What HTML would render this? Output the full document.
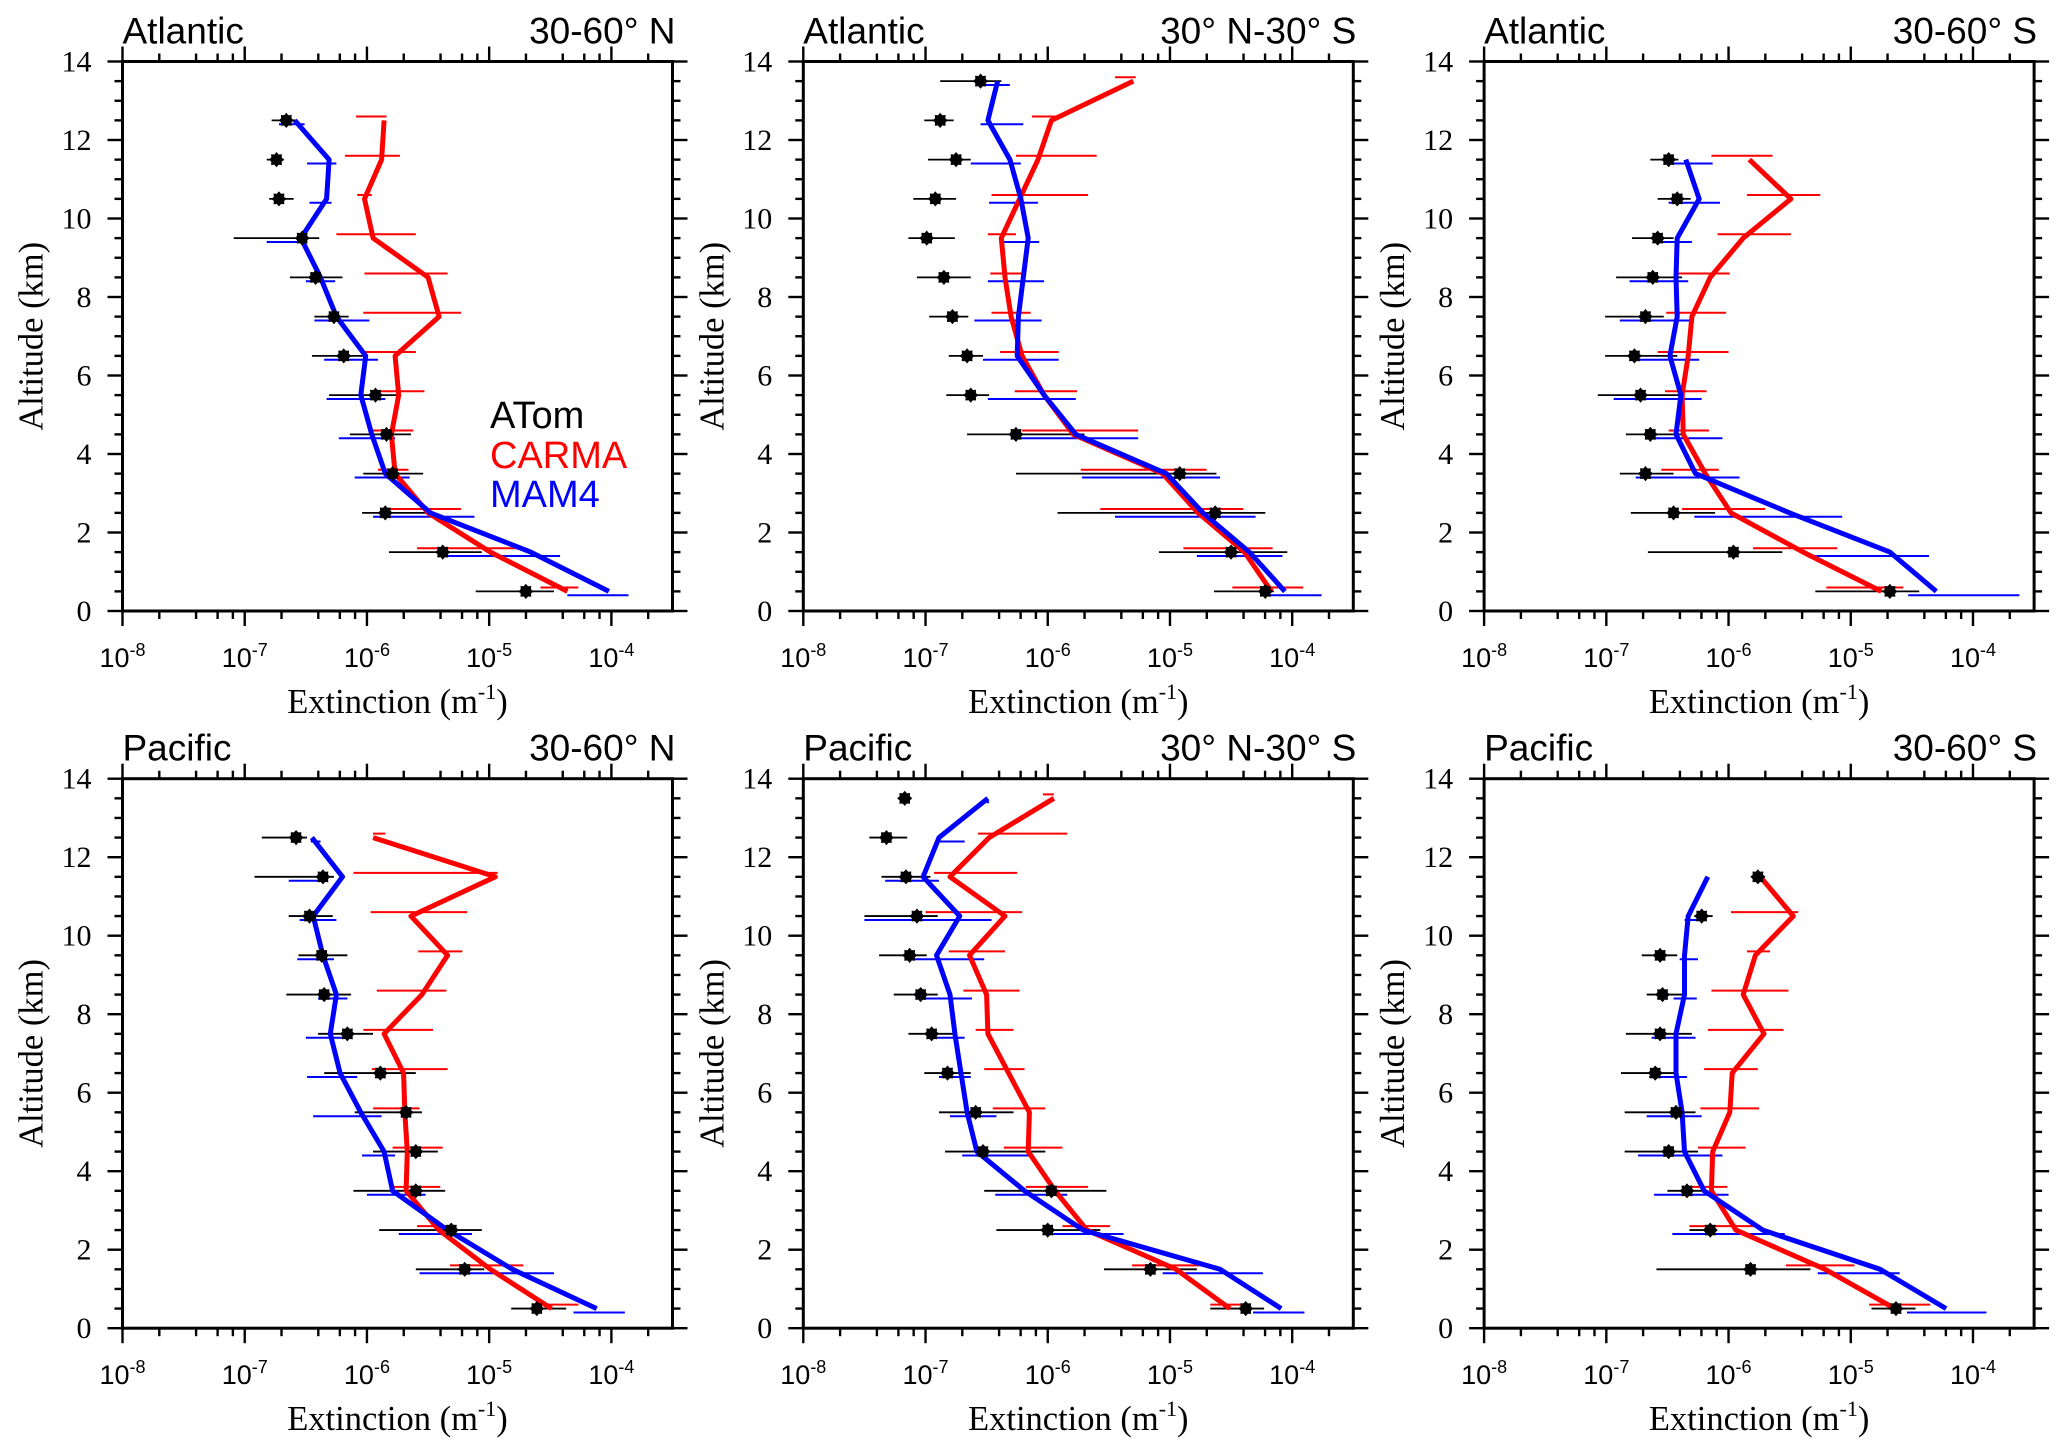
<!DOCTYPE html>
<html><head><meta charset="utf-8"><style>
html,body{margin:0;padding:0;background:#fff;}
svg{display:block;}
.tk{font-family:"Liberation Sans",sans-serif;font-size:27px;}
.ty{font-family:"Liberation Serif",serif;font-size:30px;}
.at{font-family:"Liberation Serif",serif;font-size:34.5px;}
.pt{font-family:"Liberation Sans",sans-serif;font-size:37px;}
.lg{font-family:"Liberation Sans",sans-serif;font-size:38px;}
</style></head><body>
<svg id="fig" xmlns="http://www.w3.org/2000/svg" width="2067" height="1454" viewBox="0 0 2067 1454"></svg>
<script>
// ---- chart data (log10 of extinction, m^-1) ----
const panelRegions = ["Atlantic","Atlantic","Atlantic","Pacific","Pacific","Pacific"];
const panelBands = ["30-60° N","30° N-30° S","30-60° S","30-60° N","30° N-30° S","30-60° S"];
const xTickExps = [-8,-7,-6,-5,-4];
const yTickVals = [0,2,4,6,8,10,12,14];

const p1Alt = [12.5,11.5,10.5,9.5,8.5,7.5,6.5,5.5,4.5,3.5,2.5,1.5,0.5];
const p1Atom = [-6.66,-6.74,-6.72,-6.53,-6.42,-6.27,-6.19,-5.93,-5.84,-5.79,-5.85,-5.38,-4.70];
const p1AtomLo = [-6.78,-6.82,-6.80,-7.09,-6.63,-6.43,-6.45,-6.31,-6.14,-6.03,-6.04,-5.82,-5.11];
const p1AtomHi = [-6.57,-6.68,-6.60,-6.39,-6.20,-6.15,-6.02,-5.76,-5.64,-5.54,-5.52,-5.06,-4.47];
const p1Carma = [-5.86,-5.88,-6.02,-5.95,-5.50,-5.41,-5.77,-5.74,-5.80,-5.77,-5.50,-4.99,-4.36];
const p1CarmaLo = [-6.09,-6.18,-6.08,-6.25,-6.02,-6.03,-6.03,-5.93,-5.97,-5.91,-5.84,-5.59,-4.58];
const p1CarmaHi = [-5.84,-5.73,-5.96,-5.60,-5.34,-5.23,-5.60,-5.53,-5.62,-5.66,-5.23,-4.77,-4.27];
const p1Mam = [-6.59,-6.31,-6.33,-6.54,-6.38,-6.25,-6.01,-6.05,-5.96,-5.85,-5.48,-4.66,-4.02];
const p1MamLo = [-6.72,-6.49,-6.47,-6.82,-6.50,-6.43,-6.35,-6.33,-6.23,-6.10,-5.95,-5.36,-4.36];
const p1MamHi = [-6.51,-6.25,-6.29,-6.49,-6.26,-5.98,-5.91,-5.85,-5.77,-5.65,-5.12,-4.42,-3.86];

const p2Alt = [13.5,12.5,11.5,10.5,9.5,8.5,7.5,6.5,5.5,4.5,3.5,2.5,1.5,0.5];
const p2Atom = [-6.55,-6.88,-6.75,-6.92,-6.99,-6.85,-6.78,-6.66,-6.63,-6.26,-4.92,-4.63,-4.50,-4.22];
const p2AtomLo = [-6.88,-7.01,-6.98,-7.10,-7.14,-7.07,-6.97,-6.81,-6.83,-6.66,-6.26,-5.92,-5.09,-4.64];
const p2AtomHi = [-6.38,-6.77,-6.63,-6.75,-6.76,-6.63,-6.65,-6.53,-6.48,-5.70,-4.62,-4.22,-4.04,-4.15];
const p2Carma = [-5.30,-5.97,-6.08,-6.23,-6.38,-6.35,-6.30,-6.21,-6.03,-5.79,-5.06,-4.77,-4.39,-4.17];
const p2CarmaLo = [-5.45,-6.13,-6.26,-6.46,-6.49,-6.47,-6.46,-6.39,-6.27,-6.21,-5.73,-5.57,-4.89,-4.49];
const p2CarmaHi = [-5.28,-5.92,-5.60,-5.67,-6.26,-6.21,-6.14,-5.91,-5.76,-5.26,-4.70,-4.40,-4.16,-3.91];
const p2Mam = [-6.41,-6.49,-6.31,-6.22,-6.16,-6.20,-6.24,-6.25,-6.03,-5.77,-5.03,-4.73,-4.35,-4.06];
const p2MamLo = [-6.54,-6.55,-6.63,-6.48,-6.39,-6.49,-6.60,-6.53,-6.49,-6.24,-5.72,-5.45,-4.78,-4.22];
const p2MamHi = [-6.31,-6.20,-6.22,-6.08,-6.07,-6.03,-6.05,-5.91,-5.77,-5.26,-4.59,-4.30,-4.08,-3.76];

const p3Alt = [11.5,10.5,9.5,8.5,7.5,6.5,5.5,4.5,3.5,2.5,1.5,0.5];
const p3Atom = [-6.49,-6.42,-6.58,-6.62,-6.68,-6.77,-6.72,-6.64,-6.68,-6.45,-5.96,-4.68];
const p3AtomLo = [-6.64,-6.58,-6.79,-6.92,-7.01,-7.01,-7.07,-6.84,-6.89,-6.80,-6.66,-5.29];
const p3AtomHi = [-6.41,-6.31,-6.45,-6.38,-6.53,-6.42,-6.38,-6.36,-6.45,-6.11,-5.56,-4.44];
const p3Carma = [-5.83,-5.49,-5.88,-6.15,-6.30,-6.33,-6.38,-6.37,-6.19,-5.98,-5.39,-4.75];
const p3CarmaLo = [-6.14,-5.85,-6.09,-6.41,-6.51,-6.58,-6.52,-6.49,-6.55,-6.38,-5.80,-5.20];
const p3CarmaHi = [-5.64,-5.25,-5.49,-5.99,-6.02,-6.00,-6.18,-6.16,-6.08,-5.70,-5.11,-4.57];
const p3Mam = [-6.35,-6.24,-6.42,-6.43,-6.42,-6.48,-6.39,-6.43,-6.27,-5.50,-4.68,-4.30];
const p3MamLo = [-6.49,-6.49,-6.61,-6.81,-6.89,-6.81,-6.94,-6.61,-6.76,-6.28,-5.34,-4.53];
const p3MamHi = [-6.13,-6.07,-6.30,-6.33,-6.30,-6.24,-6.22,-6.05,-5.91,-5.07,-4.36,-3.62];

const p4Alt = [12.5,11.5,10.5,9.5,8.5,7.5,6.5,5.5,4.5,3.5,2.5,1.5,0.5];
const p4Atom = [-6.58,-6.36,-6.47,-6.37,-6.35,-6.16,-5.89,-5.68,-5.60,-5.60,-5.31,-5.20,-4.61];
const p4AtomLo = [-6.86,-6.92,-6.64,-6.56,-6.66,-6.40,-6.35,-6.10,-5.95,-6.11,-5.90,-5.60,-4.82];
const p4AtomHi = [-6.49,-6.27,-6.28,-6.16,-6.13,-5.95,-5.60,-5.55,-5.42,-5.36,-5.06,-5.04,-4.37];
const p4Carma = [-5.95,-4.95,-5.64,-5.34,-5.55,-5.86,-5.70,-5.69,-5.67,-5.68,-5.41,-4.99,-4.49];
const p4CarmaLo = [-5.95,-6.11,-5.97,-5.58,-5.92,-6.03,-5.96,-5.95,-5.79,-5.80,-5.59,-5.32,-4.59];
const p4CarmaHi = [-5.85,-4.93,-5.18,-5.22,-5.35,-5.46,-5.34,-5.57,-5.38,-5.40,-5.29,-4.72,-4.27];
const p4Mam = [-6.45,-6.20,-6.44,-6.36,-6.25,-6.30,-6.22,-6.05,-5.86,-5.79,-5.34,-4.81,-4.12];
const p4MamLo = [-6.46,-6.64,-6.55,-6.57,-6.40,-6.50,-6.49,-6.44,-6.04,-6.00,-5.74,-5.57,-4.31];
const p4MamHi = [-6.38,-6.37,-6.25,-6.27,-6.16,-6.15,-6.08,-5.88,-5.77,-5.52,-5.14,-4.47,-3.89];

const p5Alt = [13.5,12.5,11.5,10.5,9.5,8.5,7.5,6.5,5.5,4.5,3.5,2.5,1.5,0.5];
const p5Atom = [-7.17,-7.32,-7.16,-7.07,-7.13,-7.04,-6.95,-6.82,-6.59,-6.53,-5.97,-6.00,-5.16,-4.38];
const p5AtomLo = [-7.21,-7.46,-7.36,-7.50,-7.38,-7.26,-7.14,-7.01,-6.89,-6.84,-6.52,-6.42,-5.54,-4.67];
const p5AtomHi = [-7.14,-7.15,-6.96,-6.90,-6.99,-6.90,-6.76,-6.63,-6.28,-6.02,-5.52,-5.57,-4.78,-4.23];
const p5Carma = [-5.95,-6.48,-6.80,-6.35,-6.64,-6.50,-6.49,-6.32,-6.15,-6.16,-5.94,-5.68,-4.95,-4.51];
const p5CarmaLo = [-6.04,-6.57,-6.93,-7.00,-6.81,-6.69,-6.59,-6.52,-6.45,-6.36,-6.18,-5.88,-5.31,-4.67];
const p5CarmaHi = [-5.95,-5.84,-6.25,-6.21,-6.35,-6.23,-6.28,-6.19,-6.02,-5.88,-5.67,-5.49,-4.67,-4.37];
const p5Mam = [-6.49,-6.89,-7.02,-6.72,-6.91,-6.80,-6.76,-6.71,-6.66,-6.58,-6.19,-5.71,-4.59,-4.09];
const p5MamLo = [-6.50,-6.91,-7.33,-7.50,-7.11,-7.06,-6.93,-6.89,-6.80,-6.70,-6.43,-5.96,-5.06,-4.32];
const p5MamHi = [-6.48,-6.68,-6.89,-6.46,-6.52,-6.62,-6.68,-6.63,-6.42,-6.14,-5.84,-5.38,-4.24,-3.90];

const p6Alt = [11.5,10.5,9.5,8.5,7.5,6.5,5.5,4.5,3.5,2.5,1.5,0.5];
const p6Atom = [-5.76,-6.22,-6.56,-6.54,-6.56,-6.60,-6.43,-6.49,-6.34,-6.15,-5.82,-4.63];
const p6AtomLo = [-5.80,-6.28,-6.71,-6.67,-6.84,-6.88,-6.85,-6.85,-6.50,-6.32,-6.59,-4.83];
const p6AtomHi = [-5.72,-6.13,-6.42,-6.34,-6.30,-6.41,-6.27,-6.25,-6.21,-6.10,-5.33,-4.47];
const p6Carma = [-5.74,-5.47,-5.78,-5.88,-5.71,-5.97,-5.99,-6.13,-6.14,-5.94,-5.21,-4.64];
const p6CarmaLo = [-5.76,-5.98,-5.85,-6.14,-6.17,-6.20,-6.23,-6.25,-6.32,-6.32,-5.53,-4.85];
const p6CarmaHi = [-5.72,-5.43,-5.66,-5.51,-5.55,-5.76,-5.75,-5.86,-6.01,-5.79,-4.97,-4.35];
const p6Mam = [-6.17,-6.33,-6.36,-6.36,-6.43,-6.43,-6.38,-6.36,-6.20,-5.72,-4.76,-4.22];
const p6MamLo = [-6.17,-6.36,-6.40,-6.45,-6.63,-6.65,-6.67,-6.74,-6.61,-6.46,-5.27,-4.54];
const p6MamHi = [-6.17,-6.23,-6.25,-6.26,-6.27,-6.34,-6.22,-6.05,-6.00,-5.54,-4.60,-3.89];

const panels = [
 {alt:p1Alt,atom:p1Atom,atomLo:p1AtomLo,atomHi:p1AtomHi,carma:p1Carma,carmaLo:p1CarmaLo,carmaHi:p1CarmaHi,mam:p1Mam,mamLo:p1MamLo,mamHi:p1MamHi},
 {alt:p2Alt,atom:p2Atom,atomLo:p2AtomLo,atomHi:p2AtomHi,carma:p2Carma,carmaLo:p2CarmaLo,carmaHi:p2CarmaHi,mam:p2Mam,mamLo:p2MamLo,mamHi:p2MamHi},
 {alt:p3Alt,atom:p3Atom,atomLo:p3AtomLo,atomHi:p3AtomHi,carma:p3Carma,carmaLo:p3CarmaLo,carmaHi:p3CarmaHi,mam:p3Mam,mamLo:p3MamLo,mamHi:p3MamHi},
 {alt:p4Alt,atom:p4Atom,atomLo:p4AtomLo,atomHi:p4AtomHi,carma:p4Carma,carmaLo:p4CarmaLo,carmaHi:p4CarmaHi,mam:p4Mam,mamLo:p4MamLo,mamHi:p4MamHi},
 {alt:p5Alt,atom:p5Atom,atomLo:p5AtomLo,atomHi:p5AtomHi,carma:p5Carma,carmaLo:p5CarmaLo,carmaHi:p5CarmaHi,mam:p5Mam,mamLo:p5MamLo,mamHi:p5MamHi},
 {alt:p6Alt,atom:p6Atom,atomLo:p6AtomLo,atomHi:p6AtomHi,carma:p6Carma,carmaLo:p6CarmaLo,carmaHi:p6CarmaHi,mam:p6Mam,mamLo:p6MamLo,mamHi:p6MamHi}
];

// ---- layout ----
const NS = "http://www.w3.org/2000/svg";
const svg = document.getElementById('fig');
const BOX_W = 550, BOX_H = 549.5, X0 = 122.5, Y0 = 61.5, DX = 680.8, DY = 717.2;
const XMIN = -8, XMAX = -3.5, YMAX = 14;

function mk(tag, attrs, parent){
  const e = document.createElementNS(NS, tag);
  for (const k in attrs) e.setAttribute(k, attrs[k]);
  (parent || svg).appendChild(e);
  return e;
}

panels.forEach((p, i) => {
  const col = i % 3, row = Math.floor(i / 3);
  const L = X0 + col * DX, T = Y0 + row * DY, R = L + BOX_W, B = T + BOX_H;
  const sx = v => L + (v - XMIN) / (XMAX - XMIN) * BOX_W;
  const sy = a => B - a / YMAX * BOX_H;
  const g = mk('g', {});
  
  

  const tk = mk('g', {stroke:'#000','stroke-width':2.4}, g);
  
  
  for (let e = -8; e <= -4; e++) {
    const xs = sx(e);
    mk('line', {x1:xs, x2:xs, y1:B, y2:B + 15}, tk);
    mk('line', {x1:xs, x2:xs, y1:T, y2:T - 15}, tk);
    [2,4,6,8].forEach(m => {
      const v = e + Math.log10(m);
      if (v < XMAX) {
        const xm = sx(v);
        mk('line', {x1:xm, x2:xm, y1:B, y2:B + 8}, tk);
        mk('line', {x1:xm, x2:xm, y1:T, y2:T - 8}, tk);
      }
    });
  }
  for (let a = 0; a <= 14; a += 0.5) {
    const ys = sy(a), big = (a % 2 === 0);
    const len = big ? 15 : 8;
    mk('line', {x1:L - len, x2:L, y1:ys, y2:ys}, tk);
    mk('line', {x1:R, x2:R + len, y1:ys, y2:ys}, tk);
  }
  const box = mk('rect', {x:L, y:T, width:BOX_W, height:BOX_H, fill:'none', stroke:'#000', 'stroke-width':3}, g);
  
  

  xTickExps.forEach(e => {
    const t = mk('text', {x:sx(e), y:B + 56, 'text-anchor':'middle', class:'tk'}, g);
    
    
    t.appendChild(document.createTextNode('10'));
    const s = mk('tspan', {dy:-11, 'font-size':18}, t);
    s.textContent = String(e);
  });
  yTickVals.forEach(v => {
    const t = mk('text', {x:L - 31, y:sy(v) + 10, 'text-anchor':'end', class:'ty'}, g);
    
    
    t.textContent = String(v);
  });
  const xt = mk('text', {x:L + BOX_W / 2, y:B + 102, 'text-anchor':'middle', class:'at'}, g);
  
  
  xt.appendChild(document.createTextNode('Extinction (m'));
  const sup = mk('tspan', {dy:-14, 'font-size':22}, xt); sup.textContent = '-1';
  const cl = mk('tspan', {dy:14}, xt); cl.textContent = ')';
  const yt = mk('text', {x:0, y:0, 'text-anchor':'middle', class:'at', transform:'translate(' + (L - 80) + ',' + (T + BOX_H / 2) + ') rotate(-90)'}, g);
  
  
  yt.textContent = 'Altitude (km)';
  const t1 = mk('text', {x:L, y:T - 18, class:'pt'}, g);
  
  
  t1.textContent = panelRegions[i];
  const t2 = mk('text', {x:R + 3, y:T - 18, 'text-anchor':'end', class:'pt'}, g);
  
  
  t2.textContent = panelBands[i];

  const cid = 'clip' + i;
  const cp = mk('clipPath', {id:cid}, g);
  mk('rect', {x:L, y:T, width:BOX_W, height:BOX_H}, cp);
  const plot = mk('g', {'clip-path':'url(#' + cid + ')'}, g);

  const eb = (lo, hi, color, off, name, w) => {
    const eg = mk('g', {stroke:color, 'stroke-width':w}, plot);
    
    
    p.alt.forEach((a, k) => {
      const y = sy(a + off);
      mk('line', {x1:sx(lo[k]), x2:sx(hi[k]), y1:y, y2:y}, eg);
    });
  };
  eb(p.carmaLo, p.carmaHi, '#ff0000', 0.1, 'carma-error-bars', 2);
  eb(p.mamLo, p.mamHi, '#0000ff', -0.1, 'mam4-error-bars', 2);
  eb(p.atomLo, p.atomHi, '#000', 0, 'atom-error-bars', 1.8);

  const ln = (vals, color, name) => {
    const pts = p.alt.map((a, k) => sx(vals[k]).toFixed(1) + ',' + sy(a).toFixed(1)).join(' ');
    const pl = mk('polyline', {points:pts, fill:'none', stroke:color, 'stroke-width':5, 'stroke-linejoin':'round'}, plot);
    
    
  };
  ln(p.carma, '#ff0000', 'carma-line');
  ln(p.mam, '#0000ff', 'mam4-line');

  const mg = mk('g', {fill:'#000'}, plot);
  
  
  p.alt.forEach((a, k) => {
    const cx = sx(p.atom[k]), cy = sy(a);
    let d = '';
    for (let j = 0; j < 16; j++) {
      const r = j % 2 ? 5.6 : 7.6, ang = j * Math.PI / 8;
      d += (j ? 'L' : 'M') + (cx + r * Math.cos(ang)).toFixed(1) + ' ' + (cy + r * Math.sin(ang)).toFixed(1);
    }
    const m = mk('path', {d:d + 'Z'}, mg);
    
    
  });

  if (i === 0) {
    const lg = mk('g', {}, g);
    
    
    [['ATom','#000',428],['CARMA','#ff0000',468],['MAM4','#0000ff',507]].forEach(it => {
      const t = mk('text', {x:490, y:it[2], fill:it[1], class:'lg'}, lg);
      
      
      t.textContent = it[0];
    });
  }
});
</script>
</body></html>
